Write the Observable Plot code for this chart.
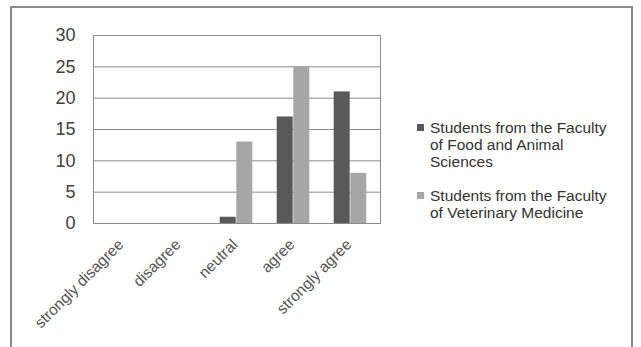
<!DOCTYPE html>
<html>
<head>
<meta charset="utf-8">
<script src="https://cdn.jsdelivr.net/npm/d3@7"></script>
<script src="https://cdn.jsdelivr.net/npm/@observablehq/plot@0.6"></script>
<style>
  html, body { margin: 0; padding: 0; background: #fff; }
  #wrap { position: relative; width: 641px; height: 347px; overflow: hidden; font-family: "Liberation Sans", Arial, sans-serif; }
  #border { position: absolute; left: 10px; top: 6px; width: 623px; height: 400px; border: 2px solid #8a8a8a; box-sizing: border-box; }
  #chart { position: absolute; left: 0; top: 0; }
  #legend { position: absolute; left: 417px; top: 119px; font-size: 15.5px; color: #333; line-height: 17px; }
  .item { position: relative; padding-left: 13px; margin-bottom: 17px; width: 200px; }
  .sw { position: absolute; left: 0; top: 5px; width: 7px; height: 7px; }
</style>
</head>
<body>
<div id="wrap">
  <div id="border"></div>
  <div id="chart"></div>
  <div id="legend"></div>
</div>
<script>
const categories = ["strongly disagree", "disagree", "neutral", "agree", "strongly agree"];
const seriesNames = ["Students from the Faculty of Food and Animal Sciences", "Students from the Faculty of Veterinary Medicine"];
const foodAnimal = [0, 0, 1, 17, 21];
const vetMedicine = [0, 0, 13, 25, 8];
const yTicks = [0, 5, 10, 15, 20, 25, 30];
const colors = ["#595959", "#a6a6a6"];

const d1 = categories.map((c, i) => ({category: c, value: foodAnimal[i]}));
const d2 = categories.map((c, i) => ({category: c, value: vetMedicine[i]}));

const chart = Plot.plot({
  width: 641,
  height: 347,
  marginLeft: 93,
  marginRight: 261,
  marginTop: 35,
  marginBottom: 124,
  style: {fontFamily: "'Liberation Sans', Arial, sans-serif", background: "transparent"},
  x: {domain: categories, paddingInner: 0.711, paddingOuter: 0.3555, axis: null},
  y: {domain: [0, 30], axis: null},
  marks: [
    Plot.ruleY(yTicks.slice(1), {stroke: "#8a8a8a", strokeWidth: 1}),
    Plot.barY(d1, {x: "category", y: "value", fill: colors[0], dx: -8.3}),
    Plot.barY(d2, {x: "category", y: "value", fill: colors[1], dx: 8.3}),
    Plot.frame({stroke: "#8a8a8a", strokeWidth: 1}),
    Plot.text(yTicks, {y: d => d, frameAnchor: "left", textAnchor: "end", dx: -18, fontSize: 18, fill: "#404040", text: d => String(d)}),
    Plot.text(categories, {x: d => d, frameAnchor: "bottom", textAnchor: "end", rotate: -45, dx: 2, dy: 22, fontSize: 15.5, fill: "#555", text: d => d})
  ]
});
document.getElementById("chart").appendChild(chart);

const legend = document.getElementById("legend");
const legendLines = [["Students from the Faculty", "of Food and Animal", "Sciences"], ["Students from the Faculty", "of Veterinary Medicine"]];
legendLines.forEach((lines, i) => {
  const item = document.createElement("div");
  item.className = "item";
  item.title = seriesNames[i];
  const sw = document.createElement("div");
  sw.className = "sw";
  sw.style.background = colors[i];
  item.appendChild(sw);
  lines.forEach(l => {
    const ln = document.createElement("div");
    ln.textContent = l;
    item.appendChild(ln);
  });
  legend.appendChild(item);
});
</script>
</body>
</html>
